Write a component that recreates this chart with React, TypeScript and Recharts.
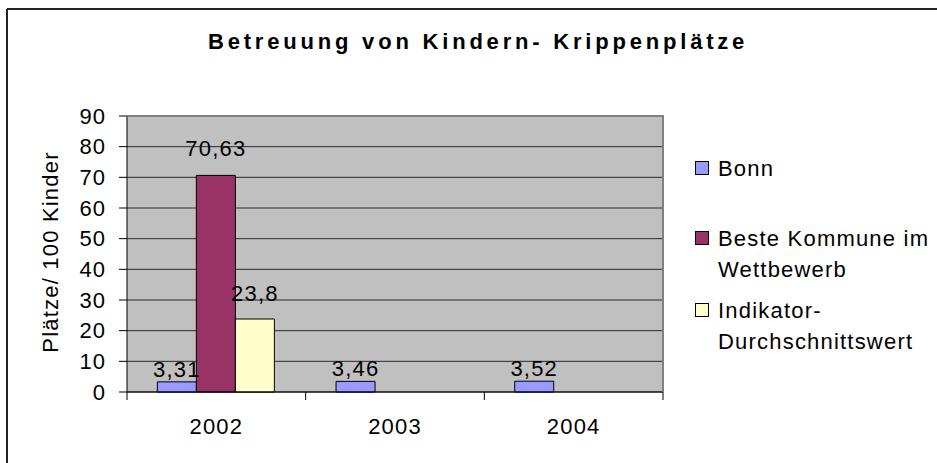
import React from 'react';
import { BarChart, Bar, XAxis, YAxis, CartesianGrid, Legend, LabelList } from 'recharts';

const YEARS = ['2002', '2003', '2004'];
const BONN = [3.31, 3.46, 3.52];
const BESTE = [70.63, null, null];
const INDIKATOR = [23.8, null, null];
const Y_TICKS = [0, 10, 20, 30, 40, 50, 60, 70, 80, 90];
const SERIES_NAMES = ['Bonn', 'Beste Kommune im Wettbewerb', 'Indikator-Durchschnittswert'];

const BLUE = '#9999FF';
const PLUM = '#993366';
const CREAM = '#FFFFCC';
const FONT = '"Liberation Sans", Arial, sans-serif';
const FS = 22;
const SPACING = 1.2;

const data = YEARS.map((year, i) => ({
  year,
  bonn: BONN[i],
  beste: BESTE[i],
  indikator: INDIKATOR[i],
}));

const X_TICK = 8;
const X_GAP = 34;

// ticks sit on the category boundaries, labels in the middle
function YearTick(props: any) {
  const { x, y, payload, index } = props;
  const half = payload.offset || 0;
  const axisY = y - X_TICK - X_GAP;
  return (
    <g>
      <line x1={x - half} x2={x - half} y1={axisY} y2={axisY + X_TICK} stroke="#000" />
      {index === YEARS.length - 1 && (
        <line x1={x + half} x2={x + half} y1={axisY} y2={axisY + X_TICK} stroke="#000" />
      )}
      <text x={x} y={y} textAnchor="middle" fontSize={FS} letterSpacing={SPACING} fill="#000" fontFamily={FONT}>
        {payload.value}
      </text>
    </g>
  );
}

const LEGEND_TOPS = [153, 223, 295];

function LegendBox({ payload }: any) {
  return (
    <div style={{ position: 'relative', width: 0, height: 0 }}>
      {(payload || []).map((p: any) => {
        const i = SERIES_NAMES.indexOf(p.value);
        return (
          <div key={p.value} style={{ position: 'absolute', left: 0, top: LEGEND_TOPS[i], display: 'flex' }}>
            <div style={{ width: 12, height: 12, marginTop: 8, border: '1px solid #000', background: p.color, flexShrink: 0 }} />
            <div style={{ marginLeft: 9, width: 228, lineHeight: '31px', fontSize: FS, letterSpacing: SPACING, color: '#000', fontFamily: FONT }}>
              {p.value}
            </div>
          </div>
        );
      })}
    </div>
  );
}

const fmt = (v: any) => (v == null ? '' : String(v).replace('.', ','));
const labelStyle = { fontSize: FS, fill: '#000', letterSpacing: SPACING, fontFamily: FONT };

export default function App() {
  return (
    <div style={{ position: 'relative', width: 937, height: 463, fontFamily: FONT, background: '#fff' }}>
      <style>{`html,body{margin:0;overflow:hidden;background:#fff}`}</style>
      <BarChart
        width={937}
        height={463}
        data={data}
        margin={{ top: 116, right: 274, bottom: 21, left: 0 }}
        barCategoryGap="17%"
        barGap={0}
      >
        <CartesianGrid vertical={false} stroke="#2a2a2a" fill="#C0C0C0" fillOpacity={1} />
        <XAxis
          dataKey="year"
          height={50}
          axisLine={{ stroke: '#000' }}
          tickLine={false}
          tickSize={X_TICK}
          tickMargin={X_GAP}
          tick={<YearTick />}
        />
        <YAxis
          width={127}
          domain={[0, 90]}
          ticks={Y_TICKS}
          interval={0}
          axisLine={{ stroke: '#000' }}
          tickLine={{ stroke: '#000' }}
          tickSize={8}
          tickMargin={13}
          tick={{ fontSize: FS, fill: '#000', letterSpacing: 1, fontFamily: FONT }}
          label={{
            content: () => (
              <text x={58} y={252} transform="rotate(-90 58 252)" textAnchor="middle" fontSize={FS} letterSpacing={SPACING} fill="#000" fontFamily={FONT}>
                Plätze/ 100 Kinder
              </text>
            ),
          }}
        />
        <Legend
          layout="vertical"
          align="right"
          verticalAlign="top"
          wrapperStyle={{ left: 695, top: 0, width: 0, height: 0 }}
          content={<LegendBox />}
        />
        <Bar dataKey="bonn" name={SERIES_NAMES[0]} fill={BLUE} stroke="#000" strokeWidth={1} isAnimationActive={false}>
          <LabelList dataKey="bonn" position="top" offset={5} formatter={fmt} style={labelStyle} />
        </Bar>
        <Bar dataKey="beste" name={SERIES_NAMES[1]} fill={PLUM} stroke="#000" strokeWidth={1} isAnimationActive={false}>
          <LabelList dataKey="beste" position="top" offset={19} formatter={fmt} style={labelStyle} />
        </Bar>
        <Bar dataKey="indikator" name={SERIES_NAMES[2]} fill={CREAM} stroke="#000" strokeWidth={1} isAnimationActive={false}>
          <LabelList dataKey="indikator" position="top" offset={18} formatter={fmt} style={labelStyle} />
        </Bar>
      </BarChart>
      <svg width={937} height={463} style={{ position: 'absolute', left: 0, top: 0, pointerEvents: 'none' }}>
        <line x1={7} y1={9} x2={937} y2={9} stroke="#222" strokeWidth={2} />
        <line x1={7} y1={9} x2={7} y2={463} stroke="#222" strokeWidth={2} />
        <line x1={127} y1={116} x2={664} y2={116} stroke="#808080" strokeWidth={2} />
        <line x1={663} y1={116} x2={663} y2={392} stroke="#808080" strokeWidth={2} />
        <text x={208} y={49} fontSize={22} fontWeight="bold" letterSpacing={3.8} fill="#000" fontFamily={FONT}>
          Betreuung von Kindern- Krippenplätze
        </text>
      </svg>
    </div>
  );
}
